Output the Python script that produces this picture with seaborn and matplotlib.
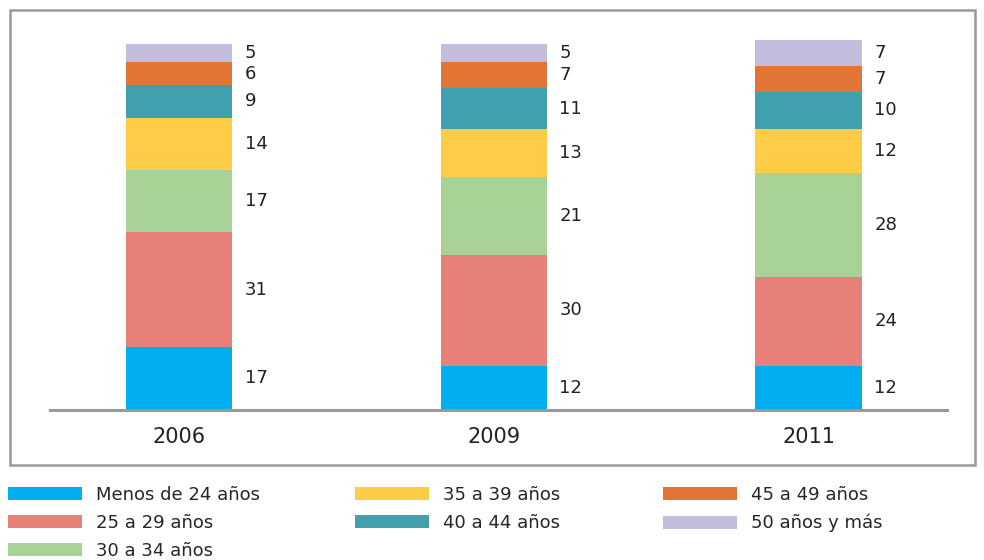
import numpy as np
import pandas as pd
import matplotlib.pyplot as plt
from matplotlib.patches import Patch, Rectangle
import seaborn as sns

# datos
years = ["2006", "2009", "2011"]
groups = ["Menos de 24 años", "25 a 29 años", "30 a 34 años", "35 a 39 años",
          "40 a 44 años", "45 a 49 años", "50 años y más"]
menos_24 = [17, 12, 12]
de_25_29 = [31, 30, 24]
de_30_34 = [17, 21, 28]
de_35_39 = [14, 13, 12]
de_40_44 = [9, 11, 10]
de_45_49 = [6, 7, 7]
mas_50 = [5, 5, 7]
colors = ["#00AEEF", "#E8807A", "#A9D396", "#FFCC48", "#40A0AE", "#E07535", "#C3BCDC"]

series = [menos_24, de_25_29, de_30_34, de_35_39, de_40_44, de_45_49, mas_50]
df = pd.DataFrame(dict(zip(groups, series)), index=years)
cum = df.cumsum(axis=1)

sns.set_style("white")
plt.rcParams['font.family'] = ['DejaVu Sans']

fig = plt.figure(figsize=(9.84, 5.6), dpi=100)
ax = fig.add_axes([0.0508, 0.268, 0.9116, 0.705])

bar_w = 0.337
# capas acumuladas, de arriba hacia abajo
for g, c in reversed(list(zip(groups, colors))):
    sns.barplot(x=years, y=cum[g].values, color=c, saturation=1, width=bar_w,
                linewidth=0, ax=ax)

# etiquetas de valores
for i, yr in enumerate(years):
    bottom = 0
    for g in groups:
        v = df.loc[yr, g]
        ax.text(i + bar_w / 2 + 0.04, bottom + v / 2, str(v), ha="left", va="center",
                fontsize=13, color="#222222")
        bottom += v

ax.set_xlim(-0.41, 2.44)
ax.set_ylim(0, 106.8)
ax.set_yticks([])
ax.set_ylabel("")
ax.set_xlabel("")
for s in ["top", "right", "left"]:
    ax.spines[s].set_visible(False)
ax.spines["bottom"].set_color("#999999")
ax.spines["bottom"].set_linewidth(2.2)
ax.tick_params(axis="x", length=0, pad=12, labelsize=15, labelcolor="#222222")
ax.patch.set_alpha(0)

# marco
fig.patches.append(Rectangle((10 / 984, 1 - 465 / 560), 965 / 984, 455 / 560,
                             transform=fig.transFigure, fill=False,
                             edgecolor="#999999", linewidth=1.8, zorder=0))

# leyenda en tres columnas
cols = [(groups[0:3], colors[0:3], 8), (groups[3:5], colors[3:5], 355),
        (groups[5:7], colors[5:7], 663)]
for labs, cs, x0 in cols:
    handles = [Patch(facecolor=c, edgecolor="none", label=l) for l, c in zip(labs, cs)]
    fig.legend(handles=handles, loc="upper left", bbox_to_anchor=(x0 / 984, 1 - 486 / 560),
               frameon=False, fontsize=13, handlelength=4.1, handleheight=0.75,
               handletextpad=0.8, labelspacing=0.55, borderpad=0, borderaxespad=0)

fig.savefig("out.png", dpi=100)
